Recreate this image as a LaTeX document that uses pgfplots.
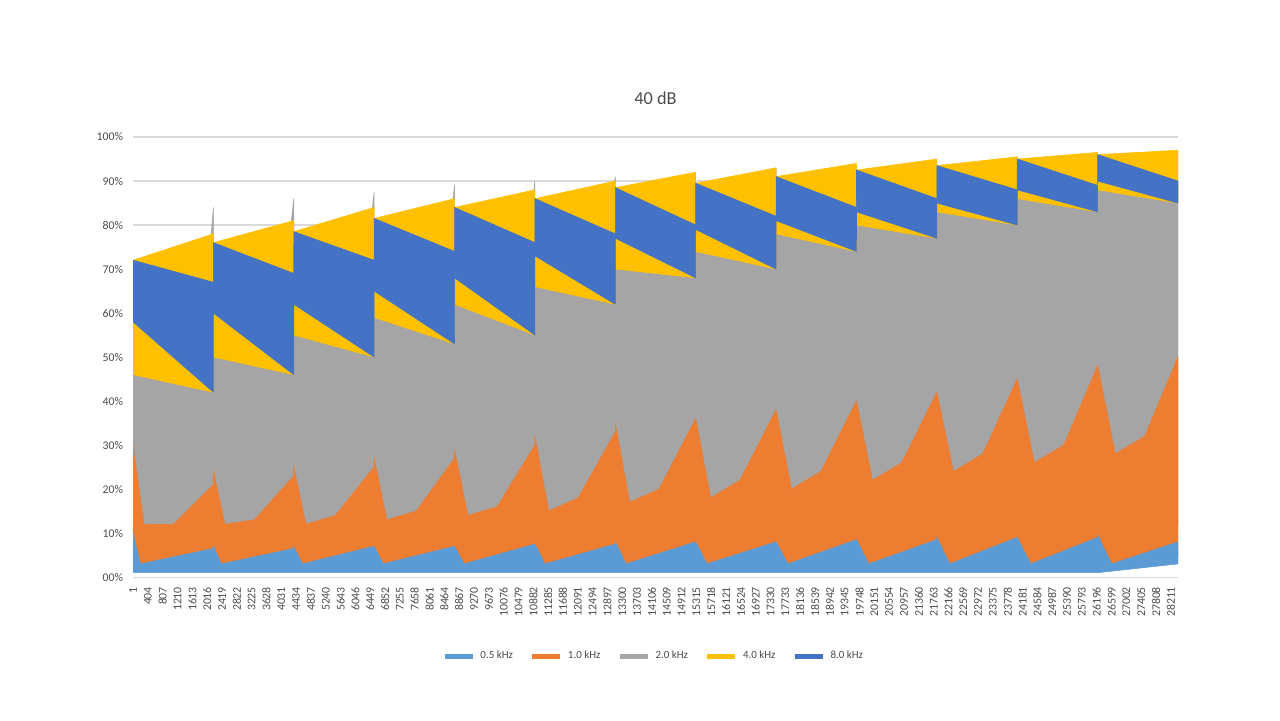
\documentclass[border=0pt]{standalone}
\usepackage{pgfplots}
\pgfplotsset{compat=1.18}
\usepackage{fontspec}
\setmainfont{Carlito}
\definecolor{cLB}{HTML}{5B9BD5}
\definecolor{cOR}{HTML}{ED7D31}
\definecolor{cGR}{HTML}{A5A5A5}
\definecolor{cYE}{HTML}{FFC000}
\definecolor{cBL}{HTML}{4472C4}
\begin{document}
\begin{tikzpicture}
\begin{axis}[
  scale only axis, width=13.06cm, height=5.5cm,
  xmin=1, xmax=28405, ymin=0, ymax=100,
  scaled x ticks=false, scaled y ticks=false,
  axis line style={draw=none}, tick style={draw=none},
  ymajorgrids, grid style={draw=black!15, line width=0.4pt},
  ytick={0,10,...,100},
  yticklabels={00\%,10\%,20\%,30\%,40\%,50\%,60\%,70\%,80\%,90\%,100\%},
  xtick={1,404,...,28211},
  xticklabel style={rotate=90, anchor=east, font=\fontsize{4.2}{5}\selectfont, text=black!70},
  yticklabel style={font=\fontsize{4.2}{5}\selectfont, text=black!70},
  /pgf/number format/assume math mode=true,
  /pgf/number format/set thousands separator={},
  title={\fontsize{6.5}{8}\selectfont\color{black!70}40 dB},
  title style={yshift=2pt},
  legend columns=5,
  legend style={draw=none, at={(0.5,-0.18)}, anchor=center, font=\fontsize{3.9}{4.5}\selectfont, text=black!70, /tikz/every even column/.append style={column sep=4pt}},
  legend image code/.code={\draw[#1, line width=1.6pt, fill=none] (0cm,0cm) -- (0.35cm,0cm);},
]
\addplot[draw=cLB] coordinates {(-100,-100)};
\addplot[draw=cOR] coordinates {(-100,-100)};
\addplot[draw=cGR] coordinates {(-100,-100)};
\addplot[draw=cYE] coordinates {(-100,-100)};
\addplot[draw=cBL] coordinates {(-100,-100)};
\legend{0.5 kHz,1.0 kHz,2.0 kHz,4.0 kHz,8.0 kHz}
% grey 2 kHz
\addplot[forget plot, draw=cGR, fill=cGR, line width=0.2pt] coordinates {
(1,50)(1800,44)(2185,84)(2186,55)(3900,50)(4370,86)(4371,58)(6100,53)(6555,87.5)(6556,62)(8300,57)(8740,89)(8741,66)(10500,60)(10925,90)(10926,70)(12700,66)(13110,91)(13111,74)(14900,70)(15295,92)(15296,78)(17100,74)(17480,93)(17481,81)(19300,77)(19665,93.5)(19666,84)(21500,80)(21850,94)(21851,86)(23700,83)(24035,95)(24036,88)(25900,85)(26220,95.5)(26221,90)(28100,87)(28405,90)
(28405,12)(26221,8)(26220,12)(24036,8)(24035,12)(21851,8)(21850,12)(19666,8)(19665,12)(17481,8)(17480,12)(15296,8)(15295,12)(13111,8)(13110,12)(10926,8)(10925,12)(8741,8)(8740,12)(6556,8)(6555,12)(4371,8)(4370,12)(2186,8)(2185,12)(1,8)} -- cycle;
% yellow 4 kHz
\addplot[forget plot, draw=cYE, fill=cYE, line width=0.2pt] coordinates {
(1,72)(2185,78)(2186,76)(4370,81)(4371,78.5)(6555,84)(6556,81.5)(8740,86)(8741,84)(10925,88)(10926,86)(13110,90)(13111,88.5)(15295,92)(15296,89.5)(17480,93)(17481,91)(19665,94)(19666,92.5)(21850,95)(21851,93.5)(24035,95.5)(24036,95)(26220,96.5)(26221,96)(28405,97)
(28405,85)(26221,88)(26220,83)(24036,86)(24035,80)(21851,83)(21850,77)(19666,80)(19665,74)(17481,78)(17480,70)(15296,74)(15295,68)(13111,70)(13110,62)(10926,66)(10925,55)(8741,62)(8740,53)(6556,59)(6555,50)(4371,55)(4370,46)(2186,50)(2185,42)(1,46)} -- cycle;
% blue 8 kHz
\addplot[forget plot, draw=cBL, fill=cBL, line width=0.2pt] coordinates {
(1,72)(2185,67)(2186,76)(4370,69)(4371,78.5)(6555,72)(6556,81.5)(8740,74)(8741,84)(10925,76)(10926,86)(13110,78)(13111,88.5)(15295,80)(15296,89.5)(17480,82)(17481,91)(19665,84)(19666,92.5)(21850,86)(21851,93.5)(24035,88)(24036,95)(26220,89)(26221,96)(28405,90)
(28405,85)(26221,90)(26220,83)(24036,88)(24035,80)(21851,85)(21850,77)(19666,83)(19665,74)(17481,81)(17480,70)(15296,79)(15295,68)(13111,77)(13110,62)(10926,73)(10925,55)(8741,68)(8740,53)(6556,65)(6555,50)(4371,62)(4370,46)(2186,60)(2185,42)(1,58)} -- cycle;
% orange 1 kHz
\addplot[forget plot, draw=cOR, fill=cOR, line width=0.2pt] coordinates {
(1,30)(300,12)(1100,12)(2185,21)(2186,24)(2500,12)(3300,13)(4370,23)(4371,25)(4700,12)(5500,14)(6555,25)(6556,27)(6900,13)(7700,15)(8740,27)(8741,29)(9100,14)(9900,16)(10925,30)(10926,32)(11300,15)(12100,18)(13110,33)(13111,35)(13500,17)(14300,20)(15295,36)(15296,36)(15700,18)(16500,22)(17480,38)(17481,38)(17900,20)(18700,24)(19665,40)(19666,40)(20100,22)(20900,26)(21850,42)(21851,42)(22300,24)(23100,28)(24035,45)(24036,45)(24500,26)(25300,30)(26220,48)(26221,48)(26700,28)(27500,32)(28405,50)
(28405,5)(26221,2)(26220,5)(24036,2)(24035,5)(21851,2)(21850,5)(19666,2)(19665,5)(17481,2)(17480,5)(15296,2)(15295,5)(13111,2)(13110,5)(10926,2)(10925,5)(8741,2)(8740,5)(6556,2)(6555,5)(4371,2)(4370,5)(2186,2)(2185,5)(1,2)} -- cycle;
% light blue 0.5 kHz
\addplot[forget plot, draw=cLB, fill=cLB, line width=0.2pt] coordinates {
(1,10)(200,3)(2185,6.5)(2186,7)(2400,3)(4370,6.5)(4371,7)(4600,3)(6555,7)(6556,7)(6800,3)(8740,7)(8741,7)(9000,3)(10925,7.5)(10926,7.5)(11200,3)(13110,7.5)(13111,8)(13400,3)(15295,8)(15296,8)(15600,3)(17480,8)(17481,8)(17800,3)(19665,8.5)(19666,8.5)(20000,3)(21850,8.5)(21851,9)(22200,3)(24035,9)(24036,9)(24400,3)(26220,9)(26221,9.5)(26600,3)(28405,8)
(28405,3)(26221,1)(24036,1)(21851,1)(19666,1)(17481,1)(15296,1)(13111,1)(10926,1)(8741,1)(6556,1)(4371,1)(2186,1)(1,1)} -- cycle;
\end{axis}
\path[use as bounding box] ([xshift=-1.6625cm,yshift=-1.7875cm]current axis.south west) rectangle ([xshift=1.275cm,yshift=1.7125cm]current axis.north east);
\end{tikzpicture}
\end{document}
